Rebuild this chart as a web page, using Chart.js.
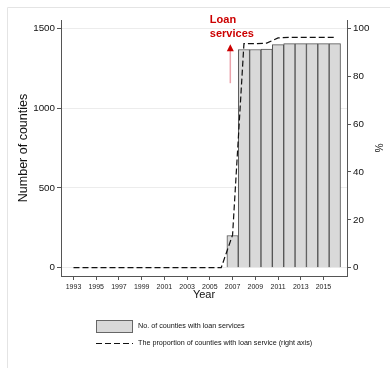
<!DOCTYPE html>
<html>
<head>
<meta charset="utf-8">
<script src="https://cdn.jsdelivr.net/npm/chart.js@4.4.0/dist/chart.umd.min.js"></script>
<style>
  html, body { margin: 0; padding: 0; background: #fff; }
  #wrap { width: 390px; height: 368px; }
</style>
</head>
<body>
<div id="wrap"><canvas id="myChart" width="390" height="368"></canvas></div>
<script>
// data
var years = [1993, 1994, 1995, 1996, 1997, 1998, 1999, 2000, 2001, 2002, 2003, 2004,
             2005, 2006, 2007, 2008, 2009, 2010, 2011, 2012, 2013, 2014, 2015, 2016];
var counties = [null, null, null, null, null, null, null, null, null, null, null, null,
                null, null, 202, 1367, 1367, 1370, 1398, 1404, 1404, 1404, 1404, 1404];
var proportion = [0, 0, 0, 0, 0, 0, 0, 0, 0, 0, 0, 0,
                  0, 0, 13.7, 93.6, 93.6, 93.8, 96.0, 96.2, 96.2, 96.2, 96.2, 96.2];
var yearTicks = [1993, 1995, 1997, 1999, 2001, 2003, 2005, 2007, 2009, 2011, 2013, 2015];
var countTicks = [0, 500, 1000, 1500];
var pctTicks = [0, 20, 40, 60, 80, 100];

var sans = "'Liberation Sans', Arial, sans-serif";

var barData = [];
var lineData = [];
years.forEach(function(yr, i) {
  if (counties[i] !== null) barData.push({x: yr, y: counties[i]});
  lineData.push({x: yr, y: proportion[i]});
});

function setTicks(list) {
  return function(scale) {
    scale.ticks = list.map(function(v) { return {value: v}; });
  };
}

// frame, legend and the red note
var extras = {
  id: 'extras',
  afterDraw: function(chart) {
    var ctx = chart.ctx;
    var sx = chart.scales.x, sy = chart.scales.y;
    ctx.save();

    // outer frame
    ctx.strokeStyle = '#e4e4e4';
    ctx.lineWidth = 1;
    ctx.beginPath();
    ctx.moveTo(7.5, 368);
    ctx.lineTo(7.5, 7.5);
    ctx.lineTo(390, 7.5);
    ctx.stroke();

    // arrow
    var ax = sx.getPixelForValue(2006.8);
    var aTop = sy.getPixelForValue(1400);
    var aBot = sy.getPixelForValue(1156);
    ctx.strokeStyle = '#eba3ab';
    ctx.lineWidth = 1.5;
    ctx.beginPath();
    ctx.moveTo(ax, aBot);
    ctx.lineTo(ax, aTop + 5);
    ctx.stroke();
    ctx.fillStyle = '#cc0000';
    ctx.beginPath();
    ctx.moveTo(ax, aTop);
    ctx.lineTo(ax - 3.5, aTop + 7);
    ctx.lineTo(ax + 3.5, aTop + 7);
    ctx.closePath();
    ctx.fill();

    // note text
    var tx = sx.getPixelForValue(2005);
    ctx.font = 'bold 11px ' + sans;
    ctx.textAlign = 'left';
    ctx.textBaseline = 'middle';
    ctx.fillText('Loan', tx, sy.getPixelForValue(1550));
    ctx.fillText('services', tx, sy.getPixelForValue(1466));

    // legend
    var bar = chart.data.datasets[0], line = chart.data.datasets[1];
    ctx.fillStyle = bar.backgroundColor;
    ctx.fillRect(96, 320, 36, 12);
    ctx.strokeStyle = '#666';
    ctx.lineWidth = 1;
    ctx.strokeRect(96.5, 320.5, 36, 12);

    ctx.strokeStyle = line.borderColor;
    ctx.lineWidth = line.borderWidth;
    ctx.setLineDash(line.borderDash);
    ctx.beginPath();
    ctx.moveTo(96, 343.5);
    ctx.lineTo(133, 343.5);
    ctx.stroke();
    ctx.setLineDash([]);

    ctx.fillStyle = '#111';
    ctx.font = '7.2px ' + sans;
    ctx.fillText(bar.label, 138, 326);
    ctx.fillText(line.label, 138, 343.5);

    ctx.restore();
  }
};

var ctx = document.getElementById('myChart').getContext('2d');
var chart = new Chart(ctx, {
  type: 'bar',
  data: {
    datasets: [
      {
        type: 'bar',
        label: 'No. of counties with loan services',
        data: barData,
        xAxisID: 'x',
        yAxisID: 'y',
        backgroundColor: '#d9d9d9',
        borderColor: '#555',
        borderWidth: 1,
        barPercentage: 1,
        categoryPercentage: 1,
        order: 2
      },
      {
        type: 'line',
        label: 'The proportion of counties with loan service (right axis)',
        data: lineData,
        xAxisID: 'x',
        yAxisID: 'y1',
        borderColor: '#111',
        borderWidth: 1.2,
        borderDash: [6, 3],
        pointRadius: 0,
        tension: 0,
        fill: false,
        order: 1
      }
    ]
  },
  options: {
    responsive: false,
    animation: false,
    devicePixelRatio: 1,
    layout: { padding: { left: 0, right: 0, top: 20, bottom: 66 } },
    plugins: {
      legend: { display: false },
      tooltip: { enabled: false }
    },
    scales: {
      x: {
        type: 'linear',
        position: 'bottom',
        offset: false,
        min: 1991.9,
        max: 2017.07,
        afterBuildTicks: setTicks(yearTicks),
        afterFit: function(scale) { scale.height = 26; },
        grid: { offset: false, drawOnChartArea: false, tickColor: '#555', tickLength: 4 },
        border: { color: '#555' },
        ticks: {
          color: '#222',
          font: { family: sans, size: 7 },
          padding: 3,
          maxRotation: 0,
          autoSkip: false,
          callback: function(v) { return String(v); }
        },
        title: {
          display: true,
          text: 'Year',
          color: '#111',
          font: { family: sans, size: 11 },
          padding: { top: 0, bottom: 0 }
        }
      },
      y: {
        type: 'linear',
        position: 'left',
        min: -52,
        max: 1552,
        afterBuildTicks: setTicks(countTicks),
        afterFit: function(scale) { scale.width = 61; },
        grid: { color: '#ececec', tickColor: '#555', tickLength: 4 },
        border: { color: '#555' },
        ticks: {
          color: '#111',
          font: { family: sans, size: 9.8 },
          padding: 2,
          callback: function(v) { return String(v); }
        },
        title: {
          display: true,
          text: 'Number of counties',
          color: '#111',
          font: { family: sans, size: 12.5 },
          padding: { top: 16, bottom: 0 }
        }
      },
      y1: {
        type: 'linear',
        position: 'right',
        min: -3.47,
        max: 103.47,
        afterBuildTicks: setTicks(pctTicks),
        afterFit: function(scale) { scale.width = 43; },
        grid: { drawOnChartArea: false, tickColor: '#555', tickLength: 4 },
        border: { color: '#555' },
        ticks: {
          color: '#111',
          font: { family: sans, size: 9.8 },
          padding: 2,
          callback: function(v) { return String(v); }
        },
        title: {
          display: true,
          text: '%',
          color: '#111',
          font: { family: sans, size: 10 },
          padding: { top: 6, bottom: 0 }
        }
      }
    }
  },
  plugins: [extras]
});
</script>
</body>
</html>
